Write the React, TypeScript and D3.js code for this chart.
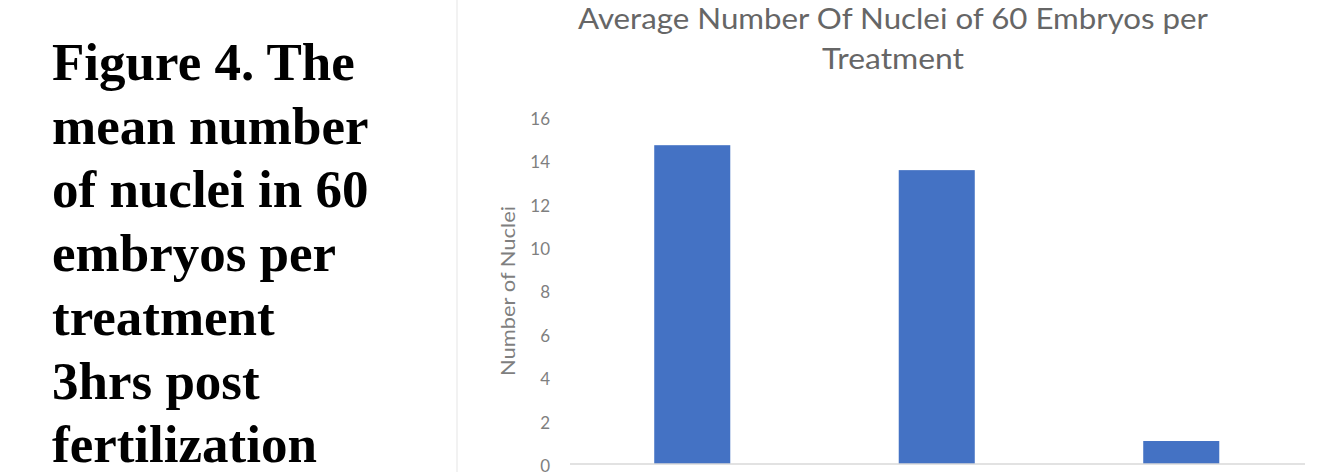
import React from "react";
import * as d3 from "d3";

const categories = ["Treatment A", "Treatment B", "Treatment C"];
const values = [14.7, 13.55, 1.06];
const yTicks = [0, 2, 4, 6, 8, 10, 12, 14, 16];
const titleLines = ["Average Number Of Nuclei of 60 Embryos per", "Treatment"];
const yAxisTitle = "Number of Nuclei";
const captionLines = [
  "Figure 4. The",
  "mean number",
  "of nuclei in 60",
  "embryos per",
  "treatment",
  "3hrs post",
  "fertilization",
];

const W = 1317;
const H = 472;

export default function App() {
  const x = d3
    .scaleBand<string>()
    .domain(categories)
    .range([570, 1303.5])
    .paddingInner(0.689)
    .paddingOuter(0.3445);
  const y = d3.scaleLinear().domain([0, 16]).range([464, 117]);
  const grey = "#7f7f7f";
  const font = "Lato, 'Open Sans', sans-serif";
  const titleLengths = [630, 142];

  return (
    <svg
      width={W}
      height={H}
      style={{ position: "absolute", left: 0, top: 0, background: "#fff" }}
    >
      {/* caption */}
      {captionLines.map((t, i) => (
        <text
          key={t}
          x={52}
          y={80 + i * 63.7}
          fontFamily="'Liberation Serif', 'Times New Roman', serif"
          fontWeight="bold"
          fontSize={53}
          fill="#000"
        >
          {t}
        </text>
      ))}

      {/* chart area border */}
      <line x1={457} x2={457} y1={0} y2={H} stroke="#eeeeee" strokeWidth={1.5} />

      {/* title */}
      {titleLines.map((t, i) => (
        <text
          key={t}
          x={893}
          y={29 + i * 40}
          textAnchor="middle"
          fontFamily={font}
          fontSize={28}
          fill="#666666"
          textLength={titleLengths[i]}
          lengthAdjust="spacingAndGlyphs"
        >
          {t}
        </text>
      ))}

      {/* y tick labels */}
      {yTicks.map((v) => (
        <text
          key={v}
          x={550}
          y={y(v) + 2}
          dy="0.35em"
          textAnchor="end"
          fontFamily={font}
          fontSize={17}
          fill={grey}
        >
          {v}
        </text>
      ))}

      {/* y axis title */}
      <text
        transform={`translate(515, 291) rotate(-90)`}
        textAnchor="middle"
        fontFamily={font}
        fontSize={19}
        fill={grey}
        textLength={170}
        lengthAdjust="spacingAndGlyphs"
      >
        {yAxisTitle}
      </text>

      {/* bars */}
      {categories.map((c, i) => (
        <rect
          key={c}
          x={x(c)}
          y={y(values[i])}
          width={x.bandwidth()}
          height={y(0) - y(values[i])}
          fill="#4472c4"
        />
      ))}

      {/* x axis line */}
      <line x1={570} x2={1305} y1={y(0)} y2={y(0)} stroke="#d9d9d9" strokeWidth={1.5} />
    </svg>
  );
}
